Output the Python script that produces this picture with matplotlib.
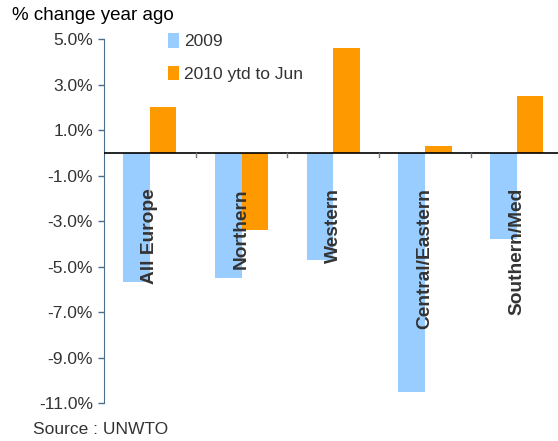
import matplotlib
matplotlib.use("Agg")
import matplotlib.pyplot as plt
import numpy as np

plt.rcParams['font.family'] = ['Liberation Sans', 'DejaVu Sans']

regions = ["All Europe", "Northern", "Western", "Central/Eastern", "Southern/Med"]
y2009 = [-5.7, -5.5, -4.7, -10.5, -3.8]
y2010 = [2.0, -3.4, 4.6, 0.3, 2.5]
series_names = ["2009", "2010 ytd to Jun"]
yticks = [5, 3, 1, -1, -3, -5, -7, -9, -11]

blue = "#99CCFF"
orange = "#FF9900"
txt = "#333333"

fig = plt.figure(figsize=(5.58, 4.41), dpi=100)
ax = fig.add_axes([104/558, 1 - 403/441, 1 - 104/558, (403 - 39)/441])

x = np.arange(len(regions))
w = 0.29
ax.bar(x - w/2, y2009, w, color=blue, label=series_names[0])
ax.bar(x + w/2, y2010, w, color=orange, label=series_names[1])

ax.set_ylim(-11, 5)
ax.set_xlim(-0.5, 4.45)
ax.set_yticks(yticks)
ax.set_yticklabels(["%.1f%%" % v for v in yticks], fontsize=12.5, color=txt)
ax.set_xticks([])

for s in ["top", "right", "bottom"]:
    ax.spines[s].set_visible(False)
ax.spines["left"].set_color("#4A6E8C")
ax.tick_params(axis="y", color="#4A6E8C", length=4, width=1, pad=4)

ax.axhline(0, color="black", lw=1.2, zorder=3)
for t in x[:-1] + 0.5:
    ax.plot([t, t], [0, -0.2], color="#777777", lw=1, zorder=3)

for xi, name in zip(x, regions):
    ax.text(xi, -1.55, name, rotation=90, ha="center", va="top",
            fontsize=13.8, fontweight="bold", color=txt, zorder=4)

leg = ax.legend(loc="upper left", bbox_to_anchor=(0.125, 1.035), frameon=False,
                fontsize=12.5, handlelength=0.65, handleheight=0.9,
                handletextpad=0.3, labelspacing=0.95, borderaxespad=0)
for t in leg.get_texts():
    t.set_color(txt)

fig.text(12/558, 1 - 16/441, "% change year ago", fontsize=13.5, color="black", va="center")
fig.text(33/558, 1 - 430/441, "Source : UNWTO", fontsize=12.5, color=txt, va="center")

fig.savefig("out.png", dpi=100)
